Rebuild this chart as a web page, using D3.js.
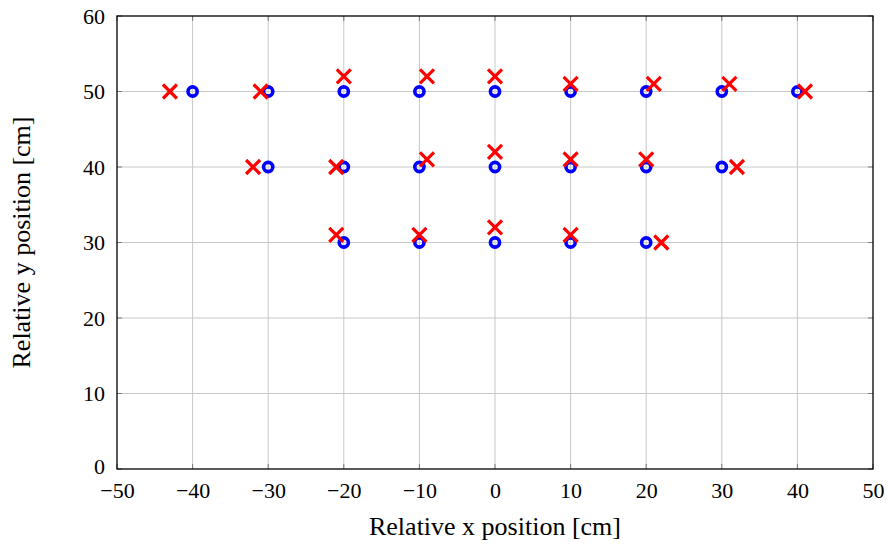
<!DOCTYPE html>
<html>
<head>
<meta charset="utf-8">
<script src="https://cdn.jsdelivr.net/npm/d3@7"></script>
<style>
  body { margin: 0; background: #fff; }
  svg text { font-family: "Liberation Serif", "DejaVu Serif", serif !important; fill: #000; }
</style>
</head>
<body>
<div id="chart"></div>
<script>
// reference positions (blue circles)
const refX = [-40, -30, -20, -10, 0, 10, 20, 30, 40, -30, -20, -10, 0, 10, 20, 30, -20, -10, 0, 10, 20];
const refY = [50, 50, 50, 50, 50, 50, 50, 50, 50, 40, 40, 40, 40, 40, 40, 40, 30, 30, 30, 30, 30];
// estimated positions (red crosses)
const estX = [-43, -31, -20, -9, 0, 10, 21, 31, 41, -32, -21, -9, 0, 10, 20, 32, -21, -10, 0, 10, 22];
const estY = [50, 50, 52, 52, 52, 51, 51, 51, 50, 40, 40, 41, 42, 41, 41, 40, 31, 31, 32, 31, 30];
const xTicks = [-50, -40, -30, -20, -10, 0, 10, 20, 30, 40, 50];
const yTicks = [0, 10, 20, 30, 40, 50, 60];

function scatter(){
  // dimensions & margins
  const margin = {top: 16, right: 14, bottom: 78, left: 117},
  width = 887 - margin.left - margin.right,
  height = 547 - margin.top - margin.bottom;

  const svg = d3.select("#chart").append("svg").attr("width", 887).attr("height", 547)
                .append("g").attr("transform", `translate(${margin.left},${margin.top})`);

  const x = d3.scaleLinear().domain([-50, 50]).range([0, width]);
  const y = d3.scaleLinear().domain([0, 60]).range([height, 0]);

  // grid
  svg.append("g").selectAll("line").data(xTicks.slice(1, -1)).join("line")
     .attr("x1", d => x(d)).attr("x2", d => x(d)).attr("y1", 0).attr("y2", height)
     .attr("stroke", "#c8c8c8").attr("stroke-width", 1);
  svg.append("g").selectAll("line").data(yTicks.slice(1, -1)).join("line")
     .attr("y1", d => y(d)).attr("y2", d => y(d)).attr("x1", 0).attr("x2", width)
     .attr("stroke", "#c8c8c8").attr("stroke-width", 1);

  // inner ticks on all four sides
  const tickCol = "#7a7a7a", tl = 5;
  const tk = svg.append("g").attr("stroke", tickCol).attr("stroke-width", 1);
  tk.selectAll(".tb").data(xTicks).join("line").attr("class", "tb")
    .attr("x1", d => x(d)).attr("x2", d => x(d)).attr("y1", height).attr("y2", height - tl);
  tk.selectAll(".tt").data(xTicks).join("line").attr("class", "tt")
    .attr("x1", d => x(d)).attr("x2", d => x(d)).attr("y1", 0).attr("y2", tl);
  tk.selectAll(".tl").data(yTicks).join("line").attr("class", "tl")
    .attr("y1", d => y(d)).attr("y2", d => y(d)).attr("x1", 0).attr("x2", tl);
  tk.selectAll(".tr").data(yTicks).join("line").attr("class", "tr")
    .attr("y1", d => y(d)).attr("y2", d => y(d)).attr("x1", width).attr("x2", width - tl);

  // tick labels via d3 axes, tick lines hidden
  const fmt = d => d < 0 ? "\u2212" + Math.abs(d) : String(d);
  const xa = svg.append("g").attr("transform", `translate(0, ${height})`)
     .call(d3.axisBottom(x).tickValues(xTicks).tickFormat(fmt).tickSize(0).tickPadding(13));
  const ya = svg.append("g")
     .call(d3.axisLeft(y).tickValues(yTicks).tickFormat(fmt).tickSize(0).tickPadding(12));
  [xa, ya].forEach(a => {
    a.attr("font-family", null).attr("font-size", null);
    a.select(".domain").remove();
    a.selectAll("text").style("font-size", "22px").attr("fill", "#000");
  });
  // keep the "0" of the y axis clear of the first x label
  ya.selectAll(".tick").filter(d => d === 0).select("text").attr("dy", "0.22em");

  // frame
  svg.append("rect").attr("x", 0).attr("y", 0).attr("width", width).attr("height", height)
     .attr("fill", "none").attr("stroke", "#000").attr("stroke-width", 1.3);

  // blue circles
  svg.append("g").selectAll("circle").data(d3.range(refX.length)).join("circle")
     .attr("cx", i => x(refX[i])).attr("cy", i => y(refY[i])).attr("r", 4.6)
     .attr("fill", "none").attr("stroke", "#0000ff").attr("stroke-width", 3.6);

  // red crosses
  const s = 7;
  svg.append("g").selectAll("path").data(d3.range(estX.length)).join("path")
     .attr("d", i => {
       const cx = x(estX[i]), cy = y(estY[i]);
       return `M${cx - s},${cy - s}L${cx + s},${cy + s}M${cx - s},${cy + s}L${cx + s},${cy - s}`;
     })
     .attr("stroke", "#ff0000").attr("stroke-width", 3.2).attr("fill", "none");

  // axis titles
  svg.append("text").attr("text-anchor", "middle").attr("x", width / 2).attr("y", height + 66)
     .style("font-size", "26px").text("Relative x position [cm]");
  svg.append("text").attr("text-anchor", "middle").attr("transform", `translate(${-87}, ${height / 2}) rotate(-90)`)
     .style("font-size", "26px").text("Relative y position [cm]");
}

scatter();
</script>
</body>
</html>
